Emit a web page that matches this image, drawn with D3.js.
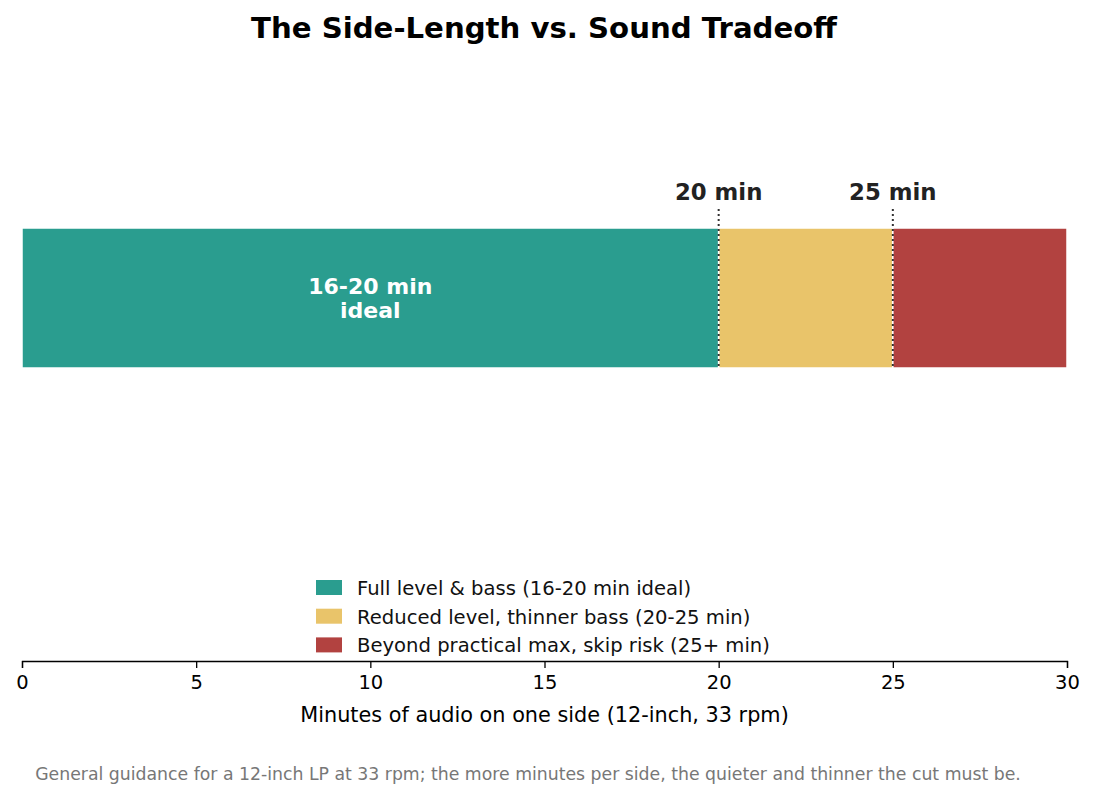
<!DOCTYPE html>
<html>
<head>
<meta charset="utf-8">
<script src="https://cdn.jsdelivr.net/npm/d3@7"></script>
<style>
  body { margin: 0; background: #fff; }
  text { font-family: "DejaVu Sans", sans-serif; }
</style>
</head>
<body>
<div id="chart"></div>
<script>
// zones of the bar (minutes)
const zoneNames = [
  "Full level & bass (16-20 min ideal)",
  "Reduced level, thinner bass (20-25 min)",
  "Beyond practical max, skip risk (25+ min)"
];
const zoneStart = [0, 20, 25];
const zoneEnd = [20, 25, 30];
const zoneColors = ["#2a9d8f", "#e9c46a", "#b24240"];

// marker lines
const markers = [20, 25];
const markerLabels = ["20 min", "25 min"];

const ticks = [0, 5, 10, 15, 20, 25, 30];

const width = 1096,
  height = 798;
const margin = { left: 22, right: 29 };

const svg = d3
  .select("#chart")
  .append("svg")
  .attr("width", width)
  .attr("height", height);

const x = d3.scaleLinear().domain([0, 30]).range([margin.left, width - margin.right]);

const barTop = 228,
  barBottom = 368,
  axisY = 661;

// bar segments
svg
  .selectAll(".zone")
  .data(zoneNames)
  .join("rect")
  .attr("class", "zone")
  .attr("x", (d, i) => x(zoneStart[i]))
  .attr("y", barTop)
  .attr("width", (d, i) => x(zoneEnd[i]) - x(zoneStart[i]))
  .attr("height", barBottom - barTop)
  .attr("fill", (d, i) => zoneColors[i])
  .attr("stroke", "white")
  .attr("stroke-width", 1.5);

// dotted marker lines
svg
  .selectAll(".marker")
  .data(markers)
  .join("line")
  .attr("class", "marker")
  .attr("x1", (d) => x(d))
  .attr("x2", (d) => x(d))
  .attr("y1", 209)
  .attr("y2", barBottom)
  .attr("stroke", "#333")
  .attr("stroke-width", 2)
  .attr("stroke-dasharray", "2,3");

svg
  .selectAll(".markerLabel")
  .data(markers)
  .join("text")
  .attr("class", "markerLabel")
  .attr("x", (d) => x(d))
  .attr("y", 200)
  .attr("text-anchor", "middle")
  .style("font-size", "22.8px")
  .style("font-weight", "bold")
  .style("fill", "#222")
  .text((d, i) => markerLabels[i]);

// label inside first segment
const ideal = svg
  .append("text")
  .attr("x", x(10))
  .attr("text-anchor", "middle")
  .style("font-size", "22px")
  .style("font-weight", "bold")
  .style("fill", "white");
ideal.append("tspan").attr("x", x(10)).attr("y", 294).text("16-20 min");
ideal.append("tspan").attr("x", x(10)).attr("y", 318).text("ideal");

// x axis
const axis = svg
  .append("g")
  .attr("transform", `translate(0,${axisY})`)
  .call(d3.axisBottom(x).tickValues(ticks).tickSize(7).tickPadding(7));
axis.select(".domain").attr("stroke", "#000").attr("stroke-width", 1.3);
axis.selectAll(".tick line").attr("stroke", "#000").attr("stroke-width", 1.3);
axis
  .selectAll(".tick text")
  .style("font-family", "DejaVu Sans, sans-serif")
  .style("font-size", "19.5px")
  .style("fill", "#000");

svg
  .append("text")
  .attr("x", x(15))
  .attr("y", 722)
  .attr("text-anchor", "middle")
  .style("font-size", "20.8px")
  .text("Minutes of audio on one side (12-inch, 33 rpm)");

// legend
const legend = svg.append("g").attr("transform", "translate(316,580)");
legend
  .selectAll("rect")
  .data(zoneNames)
  .join("rect")
  .attr("x", 0)
  .attr("y", (d, i) => i * 28.7)
  .attr("width", 26)
  .attr("height", 15)
  .attr("fill", (d, i) => zoneColors[i]);
legend
  .selectAll("text")
  .data(zoneNames)
  .join("text")
  .attr("x", 41)
  .attr("y", (d, i) => i * 28.7 + 15)
  .style("font-size", "19.6px")
  .style("fill", "#111")
  .text((d) => d);

// title
svg
  .append("text")
  .attr("x", 544)
  .attr("y", 38)
  .attr("text-anchor", "middle")
  .style("font-size", "29.2px")
  .style("font-weight", "bold")
  .text("The Side-Length vs. Sound Tradeoff");

// footnote
svg
  .append("text")
  .attr("x", 528)
  .attr("y", 780)
  .attr("text-anchor", "middle")
  .style("font-size", "17.3px")
  .style("fill", "#777")
  .text(
    "General guidance for a 12-inch LP at 33 rpm; the more minutes per side, the quieter and thinner the cut must be."
  );
</script>
</body>
</html>
